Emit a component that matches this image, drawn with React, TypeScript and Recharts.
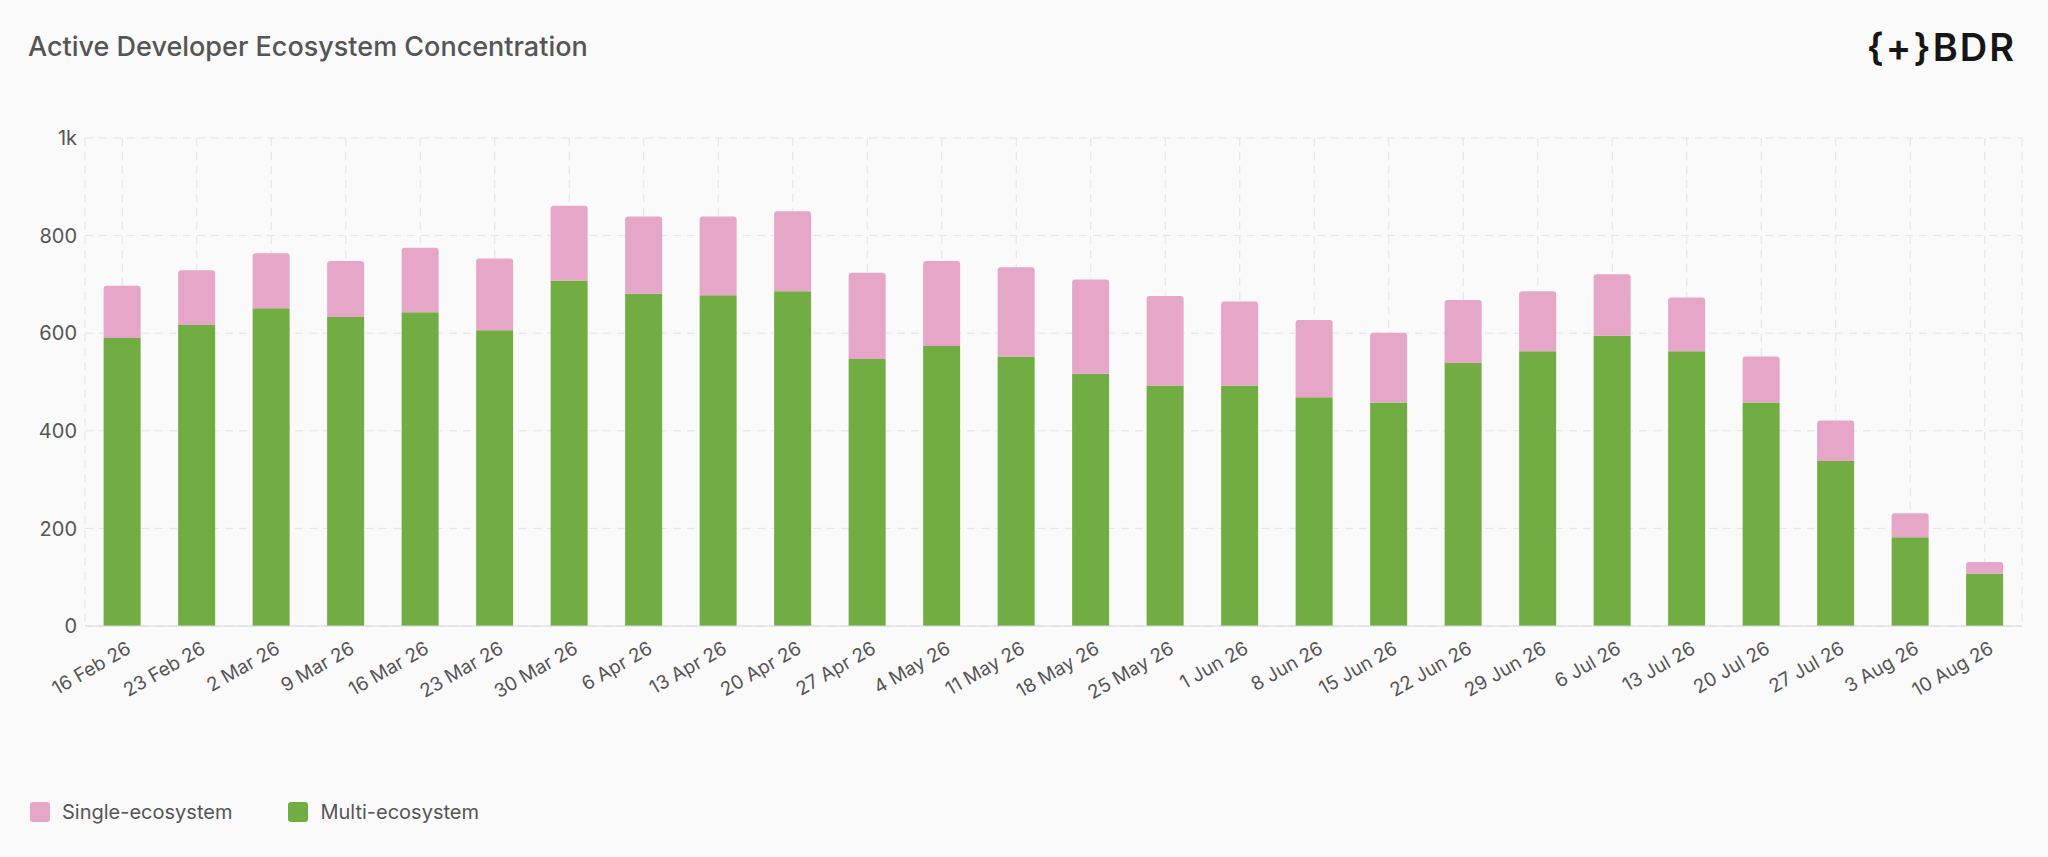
import React from "react";
import { BarChart, Bar, XAxis, YAxis, CartesianGrid } from "recharts";

const weeks = ["16 Feb 26","23 Feb 26","2 Mar 26","9 Mar 26","16 Mar 26","23 Mar 26","30 Mar 26","6 Apr 26","13 Apr 26","20 Apr 26","27 Apr 26","4 May 26","11 May 26","18 May 26","25 May 26","1 Jun 26","8 Jun 26","15 Jun 26","22 Jun 26","29 Jun 26","6 Jul 26","13 Jul 26","20 Jul 26","27 Jul 26","3 Aug 26","10 Aug 26"];
const multi = [590,617,651,633,643,606,708,681,678,686,547,574,552,517,493,493,469,458,539,563,595,563,458,338,182,107];
const single = [107,112,113,115,132,147,153,158,161,164,177,174,183,193,183,172,158,143,129,123,126,110,94,83,49,24];
const yTicks = [0,200,400,600,800,1000];
const legendItems = [
  { name: "Single-ecosystem", color: "#e6a6c8" },
  { name: "Multi-ecosystem", color: "#72ad43" },
];

const data = weeks.map((w, i) => ({ week: w, multi: multi[i], single: single[i] }));
const font = "Inter, 'Noto Sans', sans-serif";

const XTick = (props: any) => {
  const { x, y, payload } = props;
  const tx = x + 10;
  const ty = y + 18;
  return (
    <text x={tx} y={ty} textAnchor="end" transform={`rotate(-30 ${tx} ${ty})`} fill="#555" fontSize={19} fontFamily={font}>
      {payload.value}
    </text>
  );
};

export default function App() {
  return (
    <div style={{ position: "absolute", left: 0, top: 0, width: 2048, height: 857, background: "#fafafa", fontFamily: font }}>
      <div style={{ position: "absolute", left: 28, top: 30, fontSize: 27, fontWeight: 500, color: "#555" }}>
        Active Developer Ecosystem Concentration
      </div>
      <div style={{ position: "absolute", right: 32, top: 24, fontSize: 38, fontWeight: 600, color: "#161616", letterSpacing: 2 }}>
        {"{+}BDR"}
      </div>
      <BarChart width={2048} height={857} data={data} margin={{ top: 138, right: 26, left: 0, bottom: 132 }} barCategoryGap="25%">
        <CartesianGrid stroke="#e3e3e8" strokeDasharray="8 6" />
        <XAxis dataKey="week" tick={<XTick />} tickLine={false} axisLine={{ stroke: "#d5d5de" }} interval={0} height={99} />
        <YAxis ticks={yTicks} domain={[0, 1000]} width={85} tickLine={false} axisLine={false}
          tickFormatter={(v: number) => (v === 1000 ? "1k" : String(v))}
          tick={{ fill: "#555", fontSize: 20, fontFamily: font }} />
        <Bar dataKey="multi" name="Multi-ecosystem" fill="#72ad43" stackId="a" isAnimationActive={false} />
        <Bar dataKey="single" name="Single-ecosystem" fill="#e6a6c8" stackId="a" radius={[3, 3, 0, 0]} isAnimationActive={false} />
      </BarChart>
      <div style={{ position: "absolute", left: 30, top: 800, display: "flex", gap: 56, fontSize: 20, color: "#555" }}>
        {legendItems.map((it) => (
          <div key={it.name} style={{ display: "flex", alignItems: "center", gap: 12 }}>
            <span style={{ width: 20, height: 20, borderRadius: 3, background: it.color, display: "inline-block" }} />
            <span>{it.name}</span>
          </div>
        ))}
      </div>
    </div>
  );
}
